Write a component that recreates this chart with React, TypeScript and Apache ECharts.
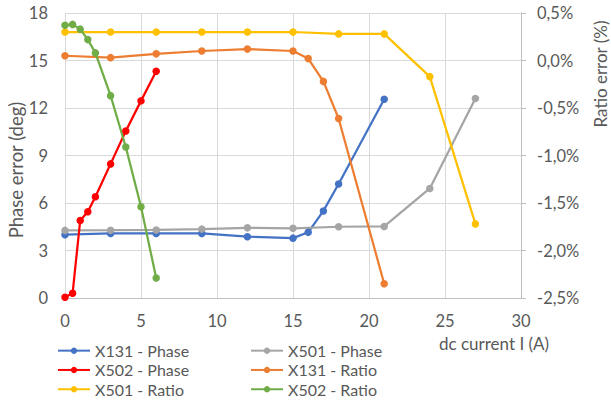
import React, { useEffect, useRef } from "react";
import * as echarts from "echarts";

// dc current (A) at which each transducer was measured
const currentX131 = [0, 3, 6, 9, 12, 15, 16, 17, 18, 21];
const currentX501 = [0, 3, 6, 9, 12, 15, 18, 21, 24, 27];
const currentX502 = [0, 0.5, 1, 1.5, 2, 3, 4, 5, 6];

// Phase error (deg)
const phaseX131 = [4.0, 4.08, 4.08, 4.08, 3.87, 3.78, 4.15, 5.5, 7.2, 12.55];
const phaseX501 = [4.27, 4.28, 4.3, 4.35, 4.43, 4.4, 4.5, 4.52, 6.92, 12.6];
const phaseX502 = [0.05, 0.3, 4.9, 5.45, 6.4, 8.47, 10.55, 12.45, 14.32];

// Ratio error (%)
const ratioX131 = [0.05, 0.03, 0.07, 0.1, 0.12, 0.1, 0.02, -0.22, -0.61, -2.35];
const ratioX501 = [0.3, 0.3, 0.3, 0.3, 0.3, 0.3, 0.28, 0.28, -0.17, -1.72];
const ratioX502 = [0.37, 0.38, 0.33, 0.22, 0.08, -0.37, -0.91, -1.54, -2.29];

const FONT = "Lato";
const TEXT = "#595959";

const pairs = (xs: number[], ys: number[]) => xs.map((x, i) => [x, ys[i]]);

const mkSeries = (name: string, color: string, xs: number[], ys: number[], axis: number) => ({
  name,
  type: "line",
  yAxisIndex: axis,
  data: pairs(xs, ys),
  symbol: "circle",
  symbolSize: 7.5,
  showSymbol: true,
  lineStyle: { color, width: 2.25 },
  itemStyle: { color },
});

export default function App() {
  const ref = useRef<HTMLDivElement>(null);

  useEffect(() => {
    if (!ref.current) return;
    const chart = echarts.init(ref.current, null, { renderer: "svg" });
    const legendCommon = {
      orient: "vertical",
      top: 341,
      itemWidth: 32,
      itemHeight: 8,
      itemGap: 0,
      textStyle: { fontFamily: FONT, fontSize: 16, color: TEXT, lineHeight: 19.3 },
      padding: 0,
    };
    const tickLabel = { fontFamily: FONT, fontSize: 16.5, color: TEXT };
    chart.setOption({
      animation: false,
      backgroundColor: "#ffffff",
      textStyle: { fontFamily: FONT },
      grid: { left: 65, right: 90, top: 13, bottom: 105 },
      xAxis: {
        type: "value",
        min: 0,
        max: 30,
        interval: 5,
        axisLine: { show: true, lineStyle: { color: "#bfbfbf", width: 1 } },
        axisTick: { show: false },
        axisLabel: { ...tickLabel, margin: 14 },
        splitLine: { show: true, lineStyle: { color: "#d9d9d9", width: 1 } },
      },
      yAxis: [
        {
          type: "value",
          min: 0,
          max: 18,
          interval: 3,
          axisLine: { show: false },
          axisTick: { show: false },
          axisLabel: { ...tickLabel, margin: 17 },
          splitLine: { show: true, lineStyle: { color: "#d9d9d9", width: 1 } },
        },
        {
          type: "value",
          position: "right",
          min: -2.5,
          max: 0.5,
          interval: 0.5,
          axisLine: { show: true, lineStyle: { color: "#bfbfbf", width: 1 } },
          axisTick: { show: true, length: 5, lineStyle: { color: "#bfbfbf" } },
          axisLabel: {
            ...tickLabel,
            margin: 16,
            formatter: (v: number) => v.toFixed(1).replace(".", ",") + "%",
          },
          splitLine: { show: false },
        },
      ],
      legend: [
        { ...legendCommon, left: 57, data: ["X131 - Phase", "X502 - Phase", "X501 - Ratio"] },
        { ...legendCommon, left: 250, data: ["X501 - Phase", "X131 - Ratio", "X502 - Ratio"] },
      ],
      graphic: [
        {
          type: "text",
          x: 16,
          y: 170,
          rotation: Math.PI / 2,
          style: {
            text: "Phase error (deg)",
            fontFamily: FONT,
            fontSize: 18.5,
            fill: TEXT,
            align: "center",
            verticalAlign: "middle",
          },
        },
        {
          type: "text",
          x: 600,
          y: 74,
          rotation: Math.PI / 2,
          style: {
            text: "Ratio error (%)",
            fontFamily: FONT,
            fontSize: 17,
            fill: TEXT,
            align: "center",
            verticalAlign: "middle",
          },
        },
        {
          type: "text",
          x: 439,
          y: 343,
          style: {
            text: "dc current I (A)",
            fontFamily: FONT,
            fontSize: 17,
            fill: TEXT,
            align: "left",
            verticalAlign: "middle",
          },
        },
      ],
      series: [
        mkSeries("X131 - Phase", "#4472C4", currentX131, phaseX131, 0),
        mkSeries("X501 - Phase", "#A5A5A5", currentX501, phaseX501, 0),
        mkSeries("X502 - Phase", "#FF0000", currentX502, phaseX502, 0),
        mkSeries("X131 - Ratio", "#ED7D31", currentX131, ratioX131, 1),
        mkSeries("X501 - Ratio", "#FFC000", currentX501, ratioX501, 1),
        mkSeries("X502 - Ratio", "#70AD47", currentX502, ratioX502, 1),
      ],
    });
    return () => chart.dispose();
  }, []);

  return (
    <div
      ref={ref}
      style={{ position: "fixed", left: 0, top: 0, width: 611, height: 403, background: "#fff" }}
    />
  );
}
